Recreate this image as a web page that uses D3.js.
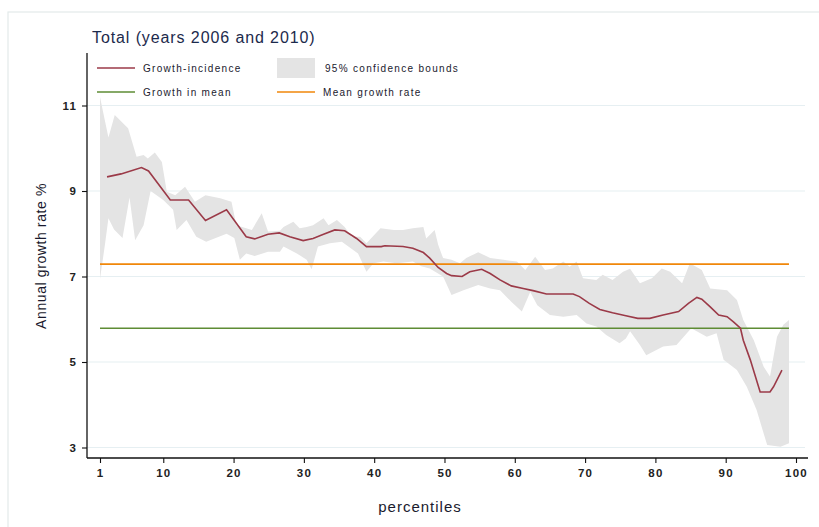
<!DOCTYPE html>
<html>
<head>
<meta charset="utf-8">
<script src="https://cdn.jsdelivr.net/npm/d3@7"></script>
<style>
  body { margin: 0; background: #fff; }
  svg { font-family: "Liberation Sans", Arial, sans-serif; }
</style>
</head>
<body>
<div id="chart"></div>
<script>
// growth-incidence curve, percentile -> annual growth %
const incidence = [
  [2, 9.33], [4, 9.4], [6.9, 9.55], [7.9, 9.47], [11, 8.79], [13.6, 8.79], [16, 8.31],
  [19, 8.56], [21.8, 7.93], [23, 7.88], [24.9, 7.99], [26.5, 8.02], [28, 7.93], [29.9, 7.84],
  [31.3, 7.89], [32.8, 7.99], [34.4, 8.09], [35.8, 8.07], [37.5, 7.89], [38.9, 7.7], [41, 7.7],
  [41.5, 7.72], [44.1, 7.7], [45.5, 7.66], [47, 7.56], [47.9, 7.43], [49.1, 7.21], [50.3, 7.07],
  [51, 7.02], [52.5, 7.0], [53.6, 7.11], [55.3, 7.17], [56.5, 7.07], [57.9, 6.92], [59.5, 6.78],
  [61.2, 6.72], [62.6, 6.67], [64.5, 6.59], [66.4, 6.59], [68.3, 6.59], [69.2, 6.53], [70.6, 6.37],
  [72.1, 6.23], [73.9, 6.15], [75.8, 6.08], [77.5, 6.02], [79.2, 6.02], [81.1, 6.1], [83.3, 6.18],
  [84.7, 6.37], [85.9, 6.51], [86.6, 6.47], [87.8, 6.29], [89, 6.1], [90.2, 6.06], [91.1, 5.94],
  [92.1, 5.79], [92.5, 5.51], [93.5, 5.05], [94.9, 4.3], [96.3, 4.3], [96.8, 4.42], [98, 4.81]
];

const upperBound = [
  [1, 11.2], [1.5, 10.8], [2.2, 10.25], [3.1, 10.78], [5, 10.47], [6.2, 9.8], [7.2, 9.84],
  [7.8, 9.76], [8.8, 9.9], [9.8, 9.68], [10.5, 8.98], [11.7, 8.9], [13.1, 9.1], [14.5, 8.75],
  [16, 8.9], [18.1, 8.83], [19.7, 8.75], [20.4, 8.2], [22.6, 8.09], [24, 8.48], [24.9, 8.05],
  [26.6, 8.07], [27.1, 8.16], [28.5, 8.28], [29.4, 8.13], [30.4, 8.16], [31.3, 8.2], [32.8, 8.36],
  [33.5, 8.2], [34.7, 8.32], [35.8, 8.16], [36.8, 7.93], [38, 7.93], [38.9, 7.78], [40.9, 8.13],
  [42.8, 8.09], [44.1, 8.09], [45.5, 8.13], [47, 8.16], [47.4, 7.89], [48.6, 8.09], [49.1, 7.74],
  [49.8, 7.43], [51, 7.39], [52.2, 7.31], [53.1, 7.43], [54.8, 7.57], [56.5, 7.43], [58.4, 7.39],
  [60.3, 7.35], [61.5, 7.15], [62.9, 7.46], [64.3, 7.15], [65.4, 7.19], [66.9, 7.35], [67.8, 7.23],
  [68.8, 7.35], [69.7, 6.96], [71.6, 6.92], [72.5, 7.04], [73.9, 6.92], [75.4, 7.11], [76.4, 7.18],
  [77.8, 6.84], [79.5, 6.96], [80.9, 7.19], [82.1, 7.11], [83.8, 6.84], [84.9, 7.31], [86.6, 7.15],
  [87.8, 6.72], [90.2, 6.68], [91.6, 6.45], [92.5, 5.98], [94, 5.51], [95.4, 4.89], [96.3, 4.66],
  [97.3, 5.59], [98.2, 5.87], [99, 5.98]
];

const lowerBound = [
  [1, 6.95], [1.7, 7.74], [2.2, 8.36], [3, 8.1], [4.2, 7.9], [5.2, 8.85], [6, 7.85], [7.2, 8.2],
  [8.2, 9.0], [10, 8.79], [11.4, 8.56], [11.9, 8.09], [13.3, 8.32], [14.7, 7.93], [16.1, 7.81],
  [19, 8.0], [20.1, 7.9], [20.9, 7.39], [21.8, 7.54], [23, 7.48], [24.9, 7.58], [26.6, 7.58],
  [27.1, 7.7], [29, 7.54], [30.4, 7.39], [31.1, 7.17], [32, 7.7], [33.7, 7.78], [35.4, 7.81],
  [37.7, 7.54], [38.9, 7.11], [39.9, 7.31], [41.3, 7.35], [43.2, 7.31], [45.5, 7.35], [46.7, 7.24],
  [47.9, 7.19], [49.8, 7.0], [51, 6.57], [52.7, 6.68], [54.8, 6.8], [56.5, 6.72], [57.9, 6.68],
  [59.5, 6.41], [61, 6.18], [62.2, 6.64], [63.2, 6.33], [65, 6.1], [66.9, 6.06], [68.8, 6.1],
  [70.2, 5.9], [71.6, 5.83], [73, 5.63], [74.9, 5.44], [75.8, 5.55], [76.4, 5.72], [77.8, 5.4],
  [78.7, 5.16], [81.1, 5.36], [83, 5.4], [85.1, 5.79], [87.3, 5.59], [88.7, 5.67], [89.7, 5.05],
  [91.6, 4.81], [93, 4.42], [94.4, 3.88], [95.4, 3.33], [95.9, 3.06], [97.8, 3.02], [99, 3.1]
];

const growthInMean = 5.79;
const meanGrowthRate = 7.29;
const meanRange = [1, 99];

const xTicks = [1, 10, 20, 30, 40, 50, 60, 70, 80, 90, 100];
const yTicks = [3, 5, 7, 9, 11];

const titleText = "Total (years 2006 and 2010)";
const legendItems = [
  { label: "Growth-incidence", type: "line", color: "#9b3a48" },
  { label: "95% confidence bounds", type: "box", color: "#e4e4e4" },
  { label: "Growth in mean", type: "line", color: "#5e8c34" },
  { label: "Mean growth rate", type: "line", color: "#f0870a" }
];

const width = 819, height = 527;
const plot = { left: 87, right: 808, top: 53, bottom: 458 };

const svg = d3.select("#chart").append("svg")
  .attr("width", width)
  .attr("height", height);

// outer frame
svg.append("rect")
  .attr("x", 8).attr("y", 12)
  .attr("width", width + 10).attr("height", height)
  .attr("fill", "none")
  .attr("stroke", "#e3eaea")
  .attr("stroke-width", 1.2);

const x = d3.scaleLinear().domain([1, 100]).range([100, 796]);
const y = d3.scaleLinear().domain([3, 11]).range([447.5, 105.5]);

// gridlines
svg.append("g")
  .selectAll("line")
  .data(yTicks)
  .join("line")
  .attr("x1", plot.left).attr("x2", plot.right - 3)
  .attr("y1", d => y(d)).attr("y2", d => y(d))
  .attr("stroke", "#e6eff2")
  .attr("stroke-width", 1.2);

const line = d3.line().x(d => x(d[0])).y(d => y(d[1]));

// confidence band: upper forward, lower backwards
const band = upperBound.concat(lowerBound.slice().reverse());
svg.append("path")
  .datum(band)
  .attr("d", d => line(d) + "Z")
  .attr("fill", "#e4e4e4")
  .attr("stroke", "none");

// mean lines
svg.append("line")
  .attr("x1", x(meanRange[0])).attr("x2", x(meanRange[1]))
  .attr("y1", y(meanGrowthRate)).attr("y2", y(meanGrowthRate))
  .attr("stroke", "#f0870a").attr("stroke-width", 1.6);

svg.append("line")
  .attr("x1", x(meanRange[0])).attr("x2", x(meanRange[1]))
  .attr("y1", y(growthInMean)).attr("y2", y(growthInMean))
  .attr("stroke", "#5e8c34").attr("stroke-width", 1.6);

// growth incidence curve
svg.append("path")
  .datum(incidence)
  .attr("d", line)
  .attr("fill", "none")
  .attr("stroke", "#9b3a48")
  .attr("stroke-width", 1.6);

// axes
const xAxis = svg.append("g")
  .attr("transform", `translate(0,${plot.bottom})`)
  .call(d3.axisBottom(x).tickValues(xTicks).tickSize(5).tickPadding(6).tickSizeOuter(0));
xAxis.select(".domain").remove();
xAxis.append("line")
  .attr("x1", plot.left).attr("x2", plot.right)
  .attr("stroke", "#111").attr("stroke-width", 1.3);

const yAxis = svg.append("g")
  .attr("transform", `translate(${plot.left},0)`)
  .call(d3.axisLeft(y).tickValues(yTicks).tickSize(5).tickPadding(5).tickSizeOuter(0));
yAxis.select(".domain").remove();
yAxis.append("line")
  .attr("y1", plot.top).attr("y2", plot.bottom)
  .attr("stroke", "#111").attr("stroke-width", 1.3);

svg.selectAll(".tick line").attr("stroke", "#111").attr("stroke-width", 1.1);
svg.selectAll(".tick text")
  .attr("fill", "#222")
  .style("font-size", "11.5px")
  .style("font-weight", "bold")
  .style("letter-spacing", "1.2px");

// axis titles
svg.append("text")
  .attr("x", 420)
  .attr("y", 512)
  .attr("text-anchor", "middle")
  .attr("fill", "#1a1a2e")
  .style("font-size", "15px")
  .style("letter-spacing", "1px")
  .text("percentiles");

svg.append("text")
  .attr("transform", `translate(46,256) rotate(-90)`)
  .attr("text-anchor", "middle")
  .attr("fill", "#1a1a2e")
  .style("font-size", "14px")
  .style("letter-spacing", "0.6px")
  .text("Annual growth rate %");

// title
svg.append("text")
  .attr("x", 92).attr("y", 43)
  .attr("fill", "#1c2a4c")
  .style("font-size", "16px")
  .style("letter-spacing", "0.9px")
  .text(titleText);

// legend
const legend = svg.append("g")
  .selectAll("g")
  .data(legendItems)
  .join("g")
  .attr("transform", (d, i) => `translate(${i % 2 === 0 ? 97 : 277},${i < 2 ? 68 : 92})`);

legend.filter(d => d.type === "line").append("line")
  .attr("x1", 0).attr("x2", 38)
  .attr("stroke", d => d.color).attr("stroke-width", 1.6);

legend.filter(d => d.type === "box").append("rect")
  .attr("x", 0).attr("y", -10)
  .attr("width", 38).attr("height", 20)
  .attr("fill", d => d.color);

legend.append("text")
  .attr("x", d => d.type === "box" ? 48 : 46)
  .attr("y", 4)
  .attr("fill", "#1a1a2e")
  .style("font-size", "10px")
  .style("letter-spacing", "1.3px")
  .text(d => d.label);
</script>
</body>
</html>
